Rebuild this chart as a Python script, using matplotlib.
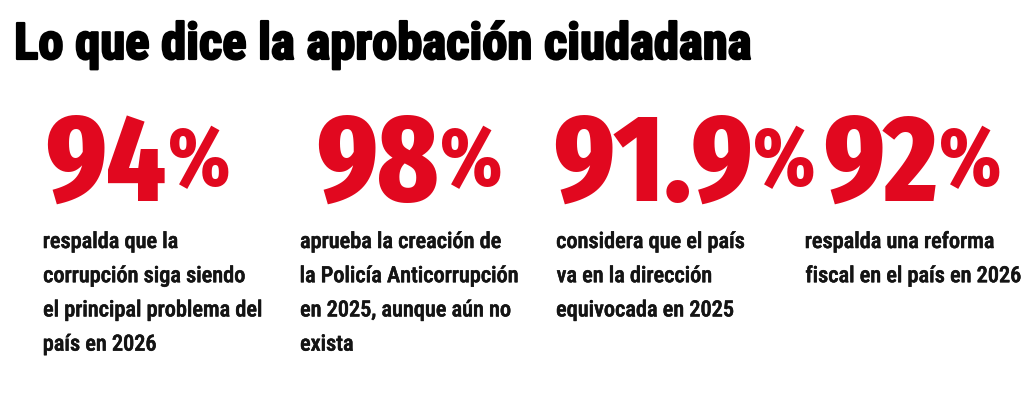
import matplotlib
matplotlib.use("Agg")
import matplotlib.pyplot as plt
from matplotlib.font_manager import FontProperties
from matplotlib.textpath import TextPath
import matplotlib.patheffects as pe

W, H = 1024, 409

title = "Lo que dice la aprobación ciudadana"
values = ["94", "98", "91.9", "92"]
unit = "%"
descriptions = [
    ["respalda que la", "corrupción siga siendo", "el principal problema del", "país en 2026"],
    ["aprueba la creación de", "la Policía Anticorrupción", "en 2025, aunque aún no", "exista"],
    ["considera que el país", "va en la dirección", "equivocada en 2025"],
    ["respalda una reforma", "fiscal en el país en 2026"],
]

RED = "#E1081F"
INK = "#141414"

fp_title = FontProperties(family="Roboto Condensed", weight=700)
fp_num = FontProperties(family="Fira Sans Extra Condensed", weight=800)
fp_body = FontProperties(family="Roboto Condensed", weight=500)

# layout targets (pixels from top-left)
title_left, title_base, title_width = 17, 59, 733
num_left = [47, 318, 555, 825]
num_base, num_height = 201, 90
pct_bottom, pct_height, pct_gap = 190, 64, 5
txt_left = [44, 301, 557, 806]
txt_base, line_gap = 248, 34.2
body_ref_line, body_ref_width = "el principal problema del", 217

fig = plt.figure(figsize=(W / 100, H / 100), dpi=100)
fig.patch.set_facecolor("white")


def ink(s, fp):
    e = TextPath((0, 0), s, size=100, prop=fp).get_extents()
    return e.x0 / 100, e.y0 / 100, e.x1 / 100, e.y1 / 100


def place(s, fp, left_px, base_px, em_px, **kw):
    x0, y0, x1, y1 = ink(s, fp)
    f = fp.copy()
    f.set_size(em_px * 0.72)
    fig.text((left_px - x0 * em_px) / W, 1 - base_px / H, s, fontproperties=f,
             va="baseline", ha="left", **kw)
    return left_px + (x1 - x0) * em_px


# title
tx0, _, tx1, _ = ink(title, fp_title)
em_title = title_width / (tx1 - tx0)
place(title, fp_title, title_left, title_base, em_title, color="black",
      path_effects=[pe.withStroke(linewidth=1.6, foreground="black")])

# numbers and percentage signs
_, ny0, _, ny1 = ink("94", fp_num)
em_num = num_height / (ny1 - ny0)
_, py0, _, py1 = ink(unit, fp_num)
em_pct = pct_height / (py1 - py0)

bx0, _, bx1, _ = ink(body_ref_line, fp_body)
em_body = body_ref_width / (bx1 - bx0)

for i, v in enumerate(values):
    right = place(v, fp_num, num_left[i], num_base, em_num, color=RED)
    place(unit, fp_num, right + pct_gap, pct_bottom + py0 * em_pct, em_pct, color=RED)
    for j, line in enumerate(descriptions[i]):
        place(line, fp_body, txt_left[i], txt_base + j * line_gap, em_body, color=INK,
              path_effects=[pe.withStroke(linewidth=0.4, foreground=INK)])

fig.savefig("out.png", dpi=100, facecolor="white")
